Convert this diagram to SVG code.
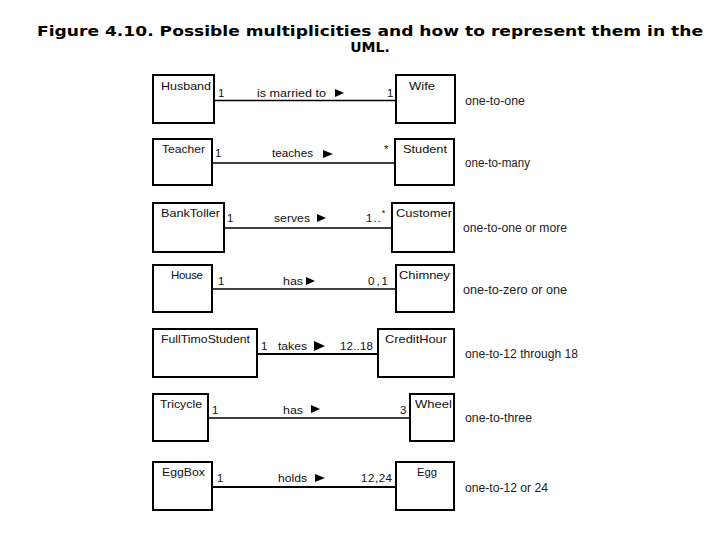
<svg xmlns="http://www.w3.org/2000/svg" width="720" height="540" viewBox="0 0 720 540">
<style>
.box{fill:#fff;stroke:#000;stroke-width:2}
.t{font-family:"Liberation Sans",Arial,sans-serif;font-size:11.5px;fill:#111}
.d{font-family:"Liberation Sans",Arial,sans-serif;font-size:12px;fill:#222}
.ttl{font-family:"DejaVu Sans",Verdana,sans-serif;font-weight:bold;font-size:14px;fill:#000}
.ln{stroke:#000;stroke-width:1.6;fill:none}
.ln2{stroke:#000;stroke-width:2.2;fill:none}
.ar{fill:#000}
</style>
<rect width="720" height="540" fill="#fff"/>
<text class="ttl" x="37" y="36" textLength="666" lengthAdjust="spacingAndGlyphs">Figure 4.10. Possible multiplicities and how to represent them in the</text>
<text class="ttl" x="370" y="52" text-anchor="middle">UML.</text>

<g id="connectors">
<line class="ln" x1="214" y1="100.5" x2="396" y2="100.5"/>
<line class="ln" x1="212" y1="163" x2="395" y2="163"/>
<line class="ln" x1="224" y1="228" x2="392" y2="228"/>
<line class="ln" x1="212" y1="289" x2="396" y2="289"/>
<line class="ln2" x1="257" y1="354" x2="378" y2="354"/>
<line class="ln" x1="208" y1="418" x2="410" y2="418"/>
<line class="ln2" x1="212" y1="487" x2="396" y2="487"/>
<polygon class="ar" points="335,89 344,93 335,97"/>
<polygon class="ar" points="323,150 333,154 323,158"/>
<polygon class="ar" points="317,214 326,218 317,222"/>
<polygon class="ar" points="306,277 315,281 306,285"/>
<polygon class="ar" points="314,341 325,346 314,351"/>
<polygon class="ar" points="311,405 320,409 311,413"/>
<polygon class="ar" points="315,474 325,478 315,482"/>
<text class="t" x="218" y="97">1</text>
<text class="t" x="257" y="97" textLength="69" lengthAdjust="spacingAndGlyphs">is married to</text>
<text class="t" x="387" y="97">1</text>
<text class="t" x="215" y="157">1</text>
<text class="t" x="272" y="157" textLength="41" lengthAdjust="spacingAndGlyphs">teaches</text>
<text class="t" x="384" y="153">*</text>
<text class="t" x="227" y="222">1</text>
<text class="t" x="274" y="222" textLength="36" lengthAdjust="spacingAndGlyphs">serves</text>
<text class="t" x="366" y="222" letter-spacing="1">1..<tspan dy="-6" font-size="9">*</tspan></text>
<text class="t" x="368" y="285" letter-spacing="2">0,1</text>
<text class="t" x="218" y="285">1</text>
<text class="t" x="283" y="285" textLength="20" lengthAdjust="spacingAndGlyphs">has</text>
<text class="t" x="261" y="350">1</text>
<text class="t" x="278" y="350" textLength="29" lengthAdjust="spacingAndGlyphs">takes</text>
<text class="t" x="340" y="350" textLength="33">12..18</text>
<text class="t" x="212" y="414">1</text>
<text class="t" x="283" y="414" textLength="20" lengthAdjust="spacingAndGlyphs">has</text>
<text class="t" x="400" y="414">3</text>
<text class="t" x="217" y="482">1</text>
<text class="t" x="278" y="482" textLength="29" lengthAdjust="spacingAndGlyphs">holds</text>
<text class="t" x="361" y="482" textLength="31">12,24</text>
</g>

<g id="husband"><rect class="box" x="153" y="75" width="61" height="48"/><text class="t" x="161" y="90" textLength="50" lengthAdjust="spacingAndGlyphs">Husband</text></g>
<g id="wife"><rect class="box" x="396" y="75" width="59" height="48"/><text class="t" x="409" y="90" textLength="26" lengthAdjust="spacingAndGlyphs">Wife</text></g>
<text class="d" x="465" y="105" textLength="60" lengthAdjust="spacingAndGlyphs">one-to-one</text>

<g id="teacher"><rect class="box" x="153" y="139" width="59" height="46"/><text class="t" x="162" y="153" textLength="43" lengthAdjust="spacingAndGlyphs">Teacher</text></g>
<g id="student"><rect class="box" x="395" y="139" width="59" height="46"/><text class="t" x="403" y="153" textLength="44" lengthAdjust="spacingAndGlyphs">Student</text></g>
<text class="d" x="465" y="167" textLength="65" lengthAdjust="spacingAndGlyphs">one-to-many</text>

<g id="banktoller"><rect class="box" x="153" y="203" width="71" height="49"/><text class="t" x="161" y="217" textLength="59" lengthAdjust="spacingAndGlyphs">BankToller</text></g>
<g id="customer"><rect class="box" x="392" y="203" width="62" height="49"/><text class="t" x="396" y="217" textLength="56" lengthAdjust="spacingAndGlyphs">Customer</text></g>
<text class="d" x="463" y="232" textLength="104" lengthAdjust="spacingAndGlyphs">one-to-one or more</text>

<g id="house"><rect class="box" x="153" y="265" width="59" height="47"/><text class="t" x="171" y="279" textLength="32">House</text></g>
<g id="chimney"><rect class="box" x="396" y="265" width="58" height="47"/><text class="t" x="399" y="279" textLength="51" lengthAdjust="spacingAndGlyphs">Chimney</text></g>
<text class="d" x="463" y="294" textLength="104" lengthAdjust="spacingAndGlyphs">one-to-zero or one</text>

<g id="fulltimostudent"><rect class="box" x="153" y="329" width="104" height="48"/><text class="t" x="161" y="343" textLength="89" lengthAdjust="spacingAndGlyphs">FullTimoStudent</text></g>
<g id="credithour"><rect class="box" x="378" y="329" width="76" height="48"/><text class="t" x="385" y="343" textLength="62" lengthAdjust="spacingAndGlyphs">CreditHour</text></g>
<text class="d" x="465" y="358" textLength="113" lengthAdjust="spacingAndGlyphs">one-to-12 through 18</text>

<g id="tricycle"><rect class="box" x="153" y="394" width="55" height="47"/><text class="t" x="160" y="408" textLength="42" lengthAdjust="spacingAndGlyphs">Tricycle</text></g>
<g id="wheel"><rect class="box" x="410" y="394" width="44" height="47"/><text class="t" x="415" y="408" textLength="37" lengthAdjust="spacingAndGlyphs">Wheel</text></g>
<text class="d" x="465" y="422" textLength="67" lengthAdjust="spacingAndGlyphs">one-to-three</text>

<g id="eggbox"><rect class="box" x="153" y="462" width="59" height="48"/><text class="t" x="162" y="476" textLength="43" lengthAdjust="spacingAndGlyphs">EggBox</text></g>
<g id="egg"><rect class="box" x="396" y="462" width="58" height="48"/><text class="t" x="417" y="476" textLength="20" lengthAdjust="spacingAndGlyphs">Egg</text></g>
<text class="d" x="465" y="492" textLength="83" lengthAdjust="spacingAndGlyphs">one-to-12 or 24</text>
</svg>
